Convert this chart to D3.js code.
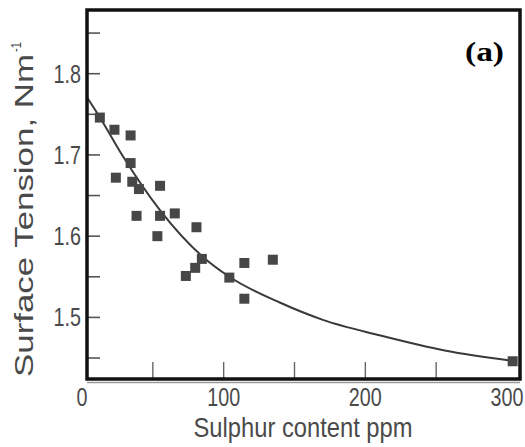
<!DOCTYPE html>
<html>
<head>
<meta charset="utf-8">
<script src="https://cdn.jsdelivr.net/npm/d3@7"></script>
<style>
  html, body { margin: 0; padding: 0; background: #ffffff; }
  svg { display: block; }
</style>
</head>
<body>
<svg id="chart" width="525" height="447"></svg>
<script>
// ---- data ----
const sulphurPpm = [12.6, 22.9, 34.3, 34.3, 23.9, 35.5, 40.2, 55.1, 38.5, 55.1, 65.5, 53.2, 80.8, 84.6, 79.9, 73.3, 104, 114.6, 114.6, 134.7, 304];
const surfaceTension = [1.746, 1.731, 1.724, 1.690, 1.672, 1.667, 1.658, 1.662, 1.625, 1.625, 1.628, 1.600, 1.611, 1.572, 1.561, 1.551, 1.549, 1.567, 1.523, 1.571, 1.446];
const fitPpm = [3.5, 12, 29, 55, 85, 104, 140, 170, 210, 257, 302];
const fitTension = [1.771, 1.748, 1.698, 1.632, 1.575, 1.550, 1.518, 1.497, 1.478, 1.459, 1.447];
const xTickLabels = [0, 100, 200, 300];
const xMinorTicks = [50, 100, 150, 200, 250];
const yTickLabels = [1.5, 1.6, 1.7, 1.8];
const yMinorTicks = [1.45, 1.5, 1.55, 1.6, 1.65, 1.7, 1.75, 1.8, 1.85];
const xTitle = "Sulphur content ppm";
const yTitle = "Surface Tension, Nm";
const ySup = "-1";
const panelLabel = "(a)";

// ---- layout ----
const W = 525;
const frame = { left: 87, right: 520, top: 10, bottom: 379 };
const svg = d3.select("#chart");

const x = d3.scaleLinear().domain([0, 300]).range([82, 507]);
const y = d3.scaleLinear().domain([1.5, 1.8]).range([317.4, 73.7]);

const textColor = "#4a4a4a";
const fontSans = "'Liberation Sans', Arial, sans-serif";

// ticks (inward)
svg.append("g").selectAll("line").data(yMinorTicks).join("line")
  .attr("x1", frame.left).attr("x2", frame.left + 13)
  .attr("y1", d => y(d)).attr("y2", d => y(d))
  .attr("stroke", "#555").attr("stroke-width", 1.6);

svg.append("g").selectAll("line").data(xMinorTicks).join("line")
  .attr("x1", d => x(d)).attr("x2", d => x(d))
  .attr("y1", frame.bottom).attr("y2", frame.bottom - 17)
  .attr("stroke", "#666").attr("stroke-width", 1.4);

// fitted curve
const line = d3.line()
  .x((d, i) => x(fitPpm[i]))
  .y((d, i) => y(fitTension[i]))
  .curve(d3.curveMonotoneX);
svg.append("path")
  .datum(fitPpm)
  .attr("d", line)
  .attr("fill", "none")
  .attr("stroke", "#3a3a3a")
  .attr("stroke-width", 2);

// data squares
const s = 10;
svg.append("g").selectAll("rect").data(sulphurPpm).join("rect")
  .attr("x", (d, i) => x(d) - s / 2)
  .attr("y", (d, i) => y(surfaceTension[i]) - s / 2)
  .attr("width", s).attr("height", s)
  .attr("fill", "#474747");

// frame
svg.append("line")
  .attr("x1", frame.left).attr("x2", frame.right)
  .attr("y1", frame.bottom + 3.5).attr("y2", frame.bottom + 3.5)
  .attr("stroke", "#9a9a9a").attr("stroke-width", 1.5);
svg.append("rect")
  .attr("x", frame.left).attr("y", frame.top)
  .attr("width", frame.right - frame.left)
  .attr("height", frame.bottom - frame.top)
  .attr("fill", "none")
  .attr("stroke", "#111").attr("stroke-width", 3.5);

// x tick labels: condensed via scale, kept inside the picture edge
const sx = 0.76;
const lblW = d => String(d).length * 11;
svg.append("g").selectAll("text").data(xTickLabels).join("text")
  .attr("transform", d => `translate(${Math.min(x(d), W - 1 - lblW(d) / 2)},406) scale(${sx},1)`)
  .attr("text-anchor", "middle")
  .attr("font-family", fontSans).attr("font-size", 26)
  .attr("fill", textColor)
  .text(d => d);

// y tick labels
svg.append("g").selectAll("text").data(yTickLabels).join("text")
  .attr("transform", d => `translate(81,${y(d) + 9}) scale(${sx},1)`)
  .attr("text-anchor", "end")
  .attr("font-family", fontSans).attr("font-size", 26)
  .attr("fill", textColor)
  .text(d => d.toFixed(1));

// x title
svg.append("text")
  .attr("x", 303).attr("y", 437)
  .attr("text-anchor", "middle")
  .attr("font-family", fontSans).attr("font-size", 28)
  .attr("fill", textColor)
  .attr("textLength", 219)
  .attr("lengthAdjust", "spacingAndGlyphs")
  .text(xTitle);

// y title (rotated)
const yt = svg.append("g").attr("transform", "translate(33,377) rotate(-90)");
yt.append("text")
  .attr("x", 0).attr("y", 0)
  .attr("font-family", fontSans).attr("font-size", 25)
  .attr("fill", textColor)
  .attr("textLength", 323)
  .attr("lengthAdjust", "spacingAndGlyphs")
  .text(yTitle);
yt.append("text")
  .attr("x", 325).attr("y", -12)
  .attr("font-family", fontSans).attr("font-size", 15)
  .attr("fill", textColor)
  .attr("textLength", 10)
  .attr("lengthAdjust", "spacingAndGlyphs")
  .text(ySup);

// panel label
svg.append("text")
  .attr("x", 465).attr("y", 61)
  .attr("font-family", "'Liberation Serif', 'Times New Roman', serif")
  .attr("font-weight", "bold").attr("font-size", 28)
  .attr("fill", "#000")
  .attr("textLength", 39)
  .attr("lengthAdjust", "spacingAndGlyphs")
  .text(panelLabel);
</script>
</body>
</html>
